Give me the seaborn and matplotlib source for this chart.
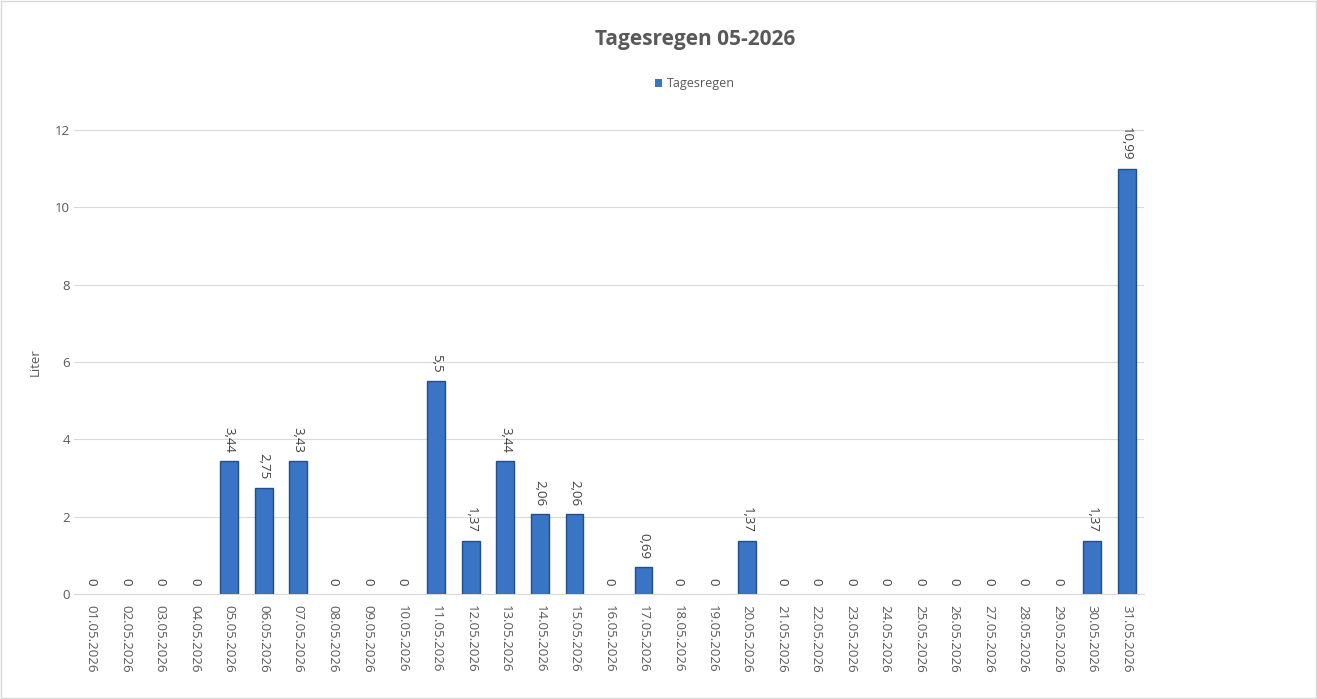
import matplotlib
matplotlib.use("Agg")
import matplotlib.pyplot as plt
import seaborn as sns
import pandas as pd

days = ["%02d.05.2026" % d for d in range(1, 32)]
rain = [0, 0, 0, 0, 3.44, 2.75, 3.43, 0, 0, 0, 5.5, 1.37, 3.44, 2.06, 2.06, 0,
        0.69, 0, 0, 1.37, 0, 0, 0, 0, 0, 0, 0, 0, 0, 1.37, 10.99]
yticks = [0, 2, 4, 6, 8, 10, 12]

df = pd.DataFrame({"Tag": days, "Tagesregen": rain})

sns.set_style("white")
plt.rcParams['font.family'] = ['Open Sans', 'DejaVu Sans']
grey = "#595959"

fig = plt.figure(figsize=(13.17, 6.99), dpi=100)
ax = fig.add_axes([74 / 1317, 1 - 594 / 699, (1144 - 74) / 1317, (594 - 130) / 699])

sns.barplot(data=df, x="Tag", y="Tagesregen", ax=ax, color="#3A74C4",
            edgecolor="#234E8A", linewidth=1.0, width=0.52, saturation=1,
            label="Tagesregen")
# no outline for empty days
for p in ax.patches:
    if p.get_height() == 0:
        p.set_linewidth(0)

for i, v in enumerate(rain):
    txt = str(v).replace(".", ",")
    if txt.endswith(",0"):
        txt = txt[:-2]
    ax.annotate(txt, (i, v), xytext=(0, 6), textcoords="offset points",
                rotation=270, ha="center", va="bottom", fontsize=9.5, color="#404040")

ax.set_ylim(0, 12)
ax.set_yticks(yticks)
ax.set_yticklabels([str(t) for t in yticks], fontsize=9.5, color=grey)
ax.set_xticks(range(len(days)))
ax.set_xticklabels(days, rotation=270, fontsize=9.5, color=grey)
ax.tick_params(axis="x", length=0, pad=8)
ax.tick_params(axis="y", length=0, pad=3)
ax.yaxis.grid(True, color="#D9D9D9", linewidth=0.8)
ax.set_axisbelow(True)
for s in ["left", "right", "top"]:
    ax.spines[s].set_visible(False)
ax.spines["bottom"].set_color("#D9D9D9")
ax.set_xlabel("")
ax.set_ylabel("Liter", fontsize=9.5, color=grey)
ax.yaxis.set_label_coords((42 - 74) / 1070, 0.5)

fig.suptitle("Tagesregen 05-2026", x=695 / 1317, y=1 - 40 / 699, va="center",
             fontsize=15, fontweight="bold", color=grey)
ax.legend(loc="center", bbox_to_anchor=(695 / 1317, 1 - 84 / 699),
          bbox_transform=fig.transFigure, frameon=False, fontsize=9,
          handlelength=0.6, handleheight=0.6, handletextpad=0.4, labelcolor=grey)

fig.patches.append(plt.Rectangle((0.001, 0.001), 0.998, 0.998, transform=fig.transFigure,
                                 fill=False, edgecolor="#D9D9D9", linewidth=1))

fig.savefig("out.png", dpi=100, facecolor="white")
